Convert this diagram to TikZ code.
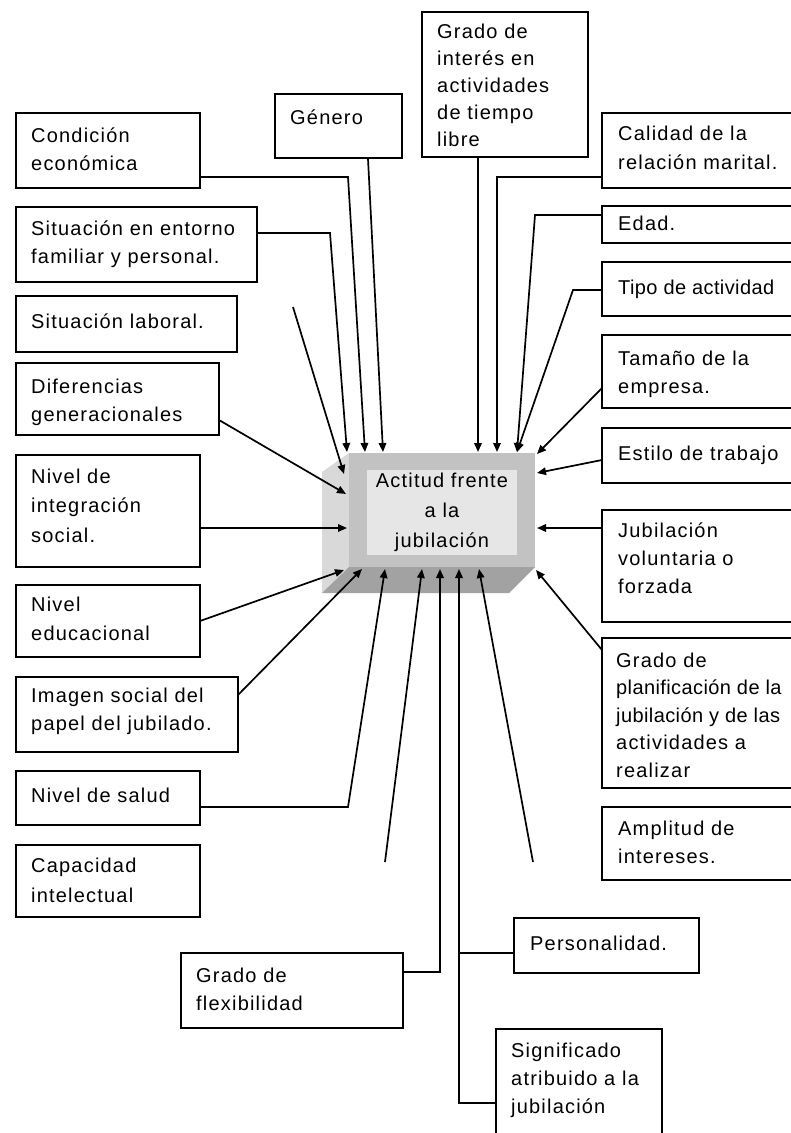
\documentclass[tikz,border=0pt]{standalone}
\usepackage{fontspec}
\setmainfont[LetterSpace=6]{Liberation Sans}
\usetikzlibrary{arrows.meta,calc}
\newcommand\tb[2][28]{{\fontsize{20}{#1}\selectfont\begin{tabular}[t]{@{}l@{}}#2\end{tabular}}}
\newcommand\tbc[2][30]{{\fontsize{20}{#1}\selectfont\begin{tabular}[t]{@{}c@{}}#2\end{tabular}}}
\newcommand\tight[1]{{\addfontfeatures{LetterSpace=2}#1}}
\newcommand\mkbox[5]{\node[bx, minimum width={#4pt-#2pt}, minimum height={#5pt-#3pt}] (#1) at (#2,#3) {};}
\definecolor{frontc}{HTML}{C2C2C2}
\definecolor{leftc}{HTML}{D9D9D9}
\definecolor{bottomc}{HTML}{A2A2A2}
\definecolor{innerc}{HTML}{E6E6E6}
\begin{document}
\begin{tikzpicture}[x=1pt,y=-1pt,
  bx/.style={draw, line width=2pt, inner sep=0pt, outer sep=0pt, anchor=north west, fill=white},
  tx/.style={inner sep=0pt, anchor=base west},
  con/.style={line width=1.7pt},
  arr/.style={con, -{Triangle[length=9pt,width=7.5pt]}}]
\useasboundingbox (0,0) rectangle (791,1133);
\clip (0,0) rectangle (791,1133);
\fill[white] (0,0) rectangle (791,1133);

% central 3D box
\fill[leftc] (349,453) -- (322,472) -- (322,593) -- (349,567) -- cycle;
\fill[bottomc] (349,567) -- (535,567) -- (509,593) -- (322,593) -- cycle;
\node[fill=frontc, minimum width=186pt, minimum height=114pt, inner sep=0pt, outer sep=0pt] (c) at (442,510) {};
\fill[innerc] (367,470) rectangle (517,555);
\node[inner sep=0pt, anchor=base] (ct) at (442,487) {\tbc[30]{Actitud frente\\a la\\jubilación}};

% boxes
\mkbox{cond}{16}{113}{200}{188}
\node[tx] (cond-t) at (31,142) {\tb{Condición\\económica}};
\mkbox{gen}{275}{94}{402}{158}
\node[tx] (gen-t) at (290,124) {\tb{Género}};
\mkbox{ent}{16}{207}{257}{282}
\node[tx] (ent-t) at (31,235) {\tb{Situación en entorno\\familiar y personal.}};
\mkbox{lab}{16}{296}{237}{352}
\node[tx] (lab-t) at (31,328) {\tb{Situación laboral.}};
\mkbox{dif}{16}{363}{219}{435}
\node[tx] (dif-t) at (31,393) {\tb{Diferencias\\generacionales}};
\mkbox{integ}{16}{455}{200}{567}
\node[tx] (integ-t) at (31,483) {\tb[29.5]{Nivel de\\integración\\social.}};
\mkbox{edu}{16}{585}{200}{657}
\node[tx] (edu-t) at (31,611) {\tb[29]{Nivel\\educacional}};
\mkbox{imag}{16}{677}{238}{752}
\node[tx] (imag-t) at (31,702) {\tb{Imagen social del\\papel del jubilado.}};
\mkbox{salud}{16}{771}{200}{825}
\node[tx] (salud-t) at (31,802) {\tb{Nivel de salud}};
\mkbox{capac}{16}{845}{200}{917}
\node[tx] (capac-t) at (31,872) {\tb[30]{Capacidad\\intelectual}};
\mkbox{flex}{181}{953}{403}{1028}
\node[tx] (flex-t) at (196,982) {\tb{Grado de\\flexibilidad}};
\mkbox{pers}{514}{918}{699}{973}
\node[tx] (pers-t) at (530,950) {\tb{Personalidad.}};
\mkbox{signif}{496}{1029}{662}{1145}
\node[tx] (signif-t) at (511,1057) {\tb{Significado\\atribuido a la\\jubilación}};
\mkbox{inter}{422}{12}{588}{157}
\node[tx] (inter-t) at (437,38) {\tb[27.2]{Grado de\\interés en\\actividades\\de tiempo\\libre}};
\mkbox{calid}{602}{113}{810}{188}
\node[tx] (calid-t) at (618,140) {\tb[29]{Calidad de la\\relación marital.}};
\mkbox{edad}{602}{206}{810}{243}
\node[tx] (edad-t) at (618,230) {\tb{Edad.}};
\mkbox{tipo}{602}{262}{810}{316}
\node[tx] (tipo-t) at (618,294) {\tb{\tight{Tipo de actividad}}};
\mkbox{tam}{602}{335}{810}{408}
\node[tx] (tam-t) at (618,365) {\tb{Tamaño de la\\empresa.}};
\mkbox{est}{602}{428}{810}{483}
\node[tx] (est-t) at (618,460) {\tb{Estilo de trabajo}};
\mkbox{jub}{602}{510}{810}{622}
\node[tx] (jub-t) at (618,537) {\tb{Jubilación\\voluntaria o\\forzada}};
\mkbox{plan}{602}{638}{810}{788}
\node[tx] (plan-t) at (616,667) {\tb[27.5]{Grado de\\\tight{planificación de la}\\\tight{jubilación y de las}\\actividades a\\realizar}};
\mkbox{ampl}{602}{807}{810}{880}
\node[tx] (ampl-t) at (618,835) {\tb{Amplitud de\\intereses.}};

% coordinates
\coordinate (b-ent) at (330,233);   \coordinate (t-ent) at (347,452);
\coordinate (b-cond) at (348,177);  \coordinate (t-cond) at (365,452);
\coordinate (t-gen) at (383,452);
\coordinate (f-lab) at (293,307);   \coordinate (t-lab) at (344,474);
\coordinate (t-dif) at (346,494);
\coordinate (t-integ) at (347,528);
\coordinate (t-edu) at (344,570);
\coordinate (t-imag) at (362,569);
\coordinate (b-salud) at (348,807); \coordinate (t-salud) at (385,569);
\coordinate (f-cap) at (385,862);   \coordinate (t-cap) at (422,569);
\coordinate (b-flex) at (440,972);  \coordinate (t-flex) at (440,569);
\coordinate (b-pers) at (459,953);  \coordinate (t-pers) at (459,569);
\coordinate (b-sig) at (459,1103);
\coordinate (f-amp) at (533,862);   \coordinate (t-amp) at (479,569);
\coordinate (t-plan) at (536,570);
\coordinate (t-jub) at (537,528);
\coordinate (t-est) at (537,473);
\coordinate (t-tam) at (537,454);
\coordinate (b-tipo) at (573,290);  \coordinate (b-edad) at (535,215);
\coordinate (t-edad) at (517,452);
\coordinate (b-cal) at (497,177);   \coordinate (t-cal) at (497,452);
\coordinate (t-int) at (478,452);

% connectors
\draw[arr] (ent.east |- b-ent) -- (b-ent) -- (t-ent);
\draw[arr] (cond.east |- b-cond) -- (b-cond) -- (t-cond);
\draw[arr] ($(gen.south west)!0.732!(gen.south east)$) -- (t-gen);
\draw[arr] (f-lab) -- (t-lab);
\draw[arr] ([yshift=-21pt]dif.east) -- (t-dif);
\draw[arr] (integ.east |- t-integ) -- (t-integ);
\draw[arr] (edu.east) -- (t-edu);
\draw[arr] ([yshift=19.5pt]imag.east) -- (t-imag);
\draw[arr] (salud.east |- b-salud) -- (b-salud) -- (t-salud);
\draw[arr] (f-cap) -- (t-cap);
\draw[arr] (flex.east |- b-flex) -- (b-flex) -- (t-flex);
\draw[arr] (pers.west |- b-pers) -- (b-pers) -- (t-pers);
\draw[con] (signif.west |- b-sig) -- (b-sig) -- (b-pers);
\draw[arr] (f-amp) -- (t-amp);
\draw[arr] ([yshift=-12pt]plan.north west) -- (t-plan);
\draw[arr] (jub.west |- t-jub) -- (t-jub);
\draw[arr] ([yshift=-4.5pt]est.west) -- (t-est);
\draw[arr] ([yshift=-16.5pt]tam.west) -- (t-tam);
\draw[arr] (tipo.west |- b-tipo) -- (b-tipo) -- (t-edad);
\draw[arr] (edad.west |- b-edad) -- (b-edad) -- (t-edad);
\draw[arr] (calid.west |- b-cal) -- (b-cal) -- (t-cal);
\draw[arr] (inter.south -| t-int) -- (t-int);
\end{tikzpicture}
\end{document}
